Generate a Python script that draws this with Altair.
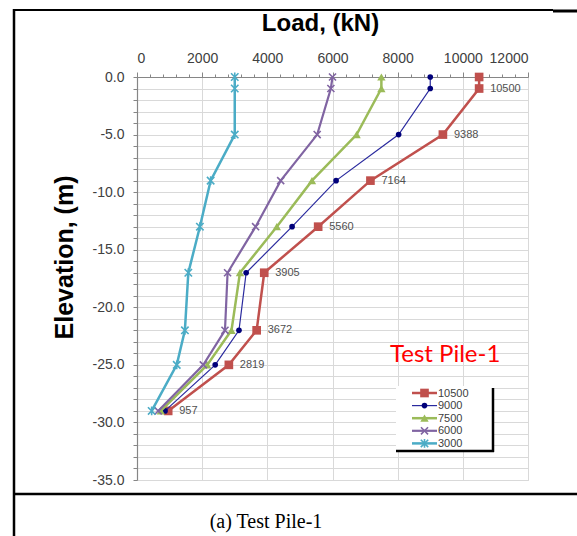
import altair as alt
import pandas as pd

# ---- data ----
depth = [0, -1, -5, -9, -13, -17, -22, -25, -29]
series_names = ["10500", "9000", "7500", "6000", "3000"]
load_10500 = [10500, 10500, 9388, 7164, 5560, 3905, 3672, 2819, 957]
load_9000 = [9000, 9000, 8030, 6110, 4760, 3350, 3130, 2400, 860]
load_7500 = [7500, 7500, 6740, 5370, 4290, 3160, 2900, 2155, 730]
load_6000 = [6000, 5950, 5530, 4410, 3640, 2780, 2700, 2035, 650]
load_3000 = [3000, 3000, 3000, 2260, 1930, 1575, 1470, 1220, 450]
red_labels = ["", "10500", "9388", "7164", "5560", "3905", "3672", "2819", "957"]
x_ticks = list(range(0, 12001, 400))
y_ticks = list(range(-35, 1, 1))

loads = [load_10500, load_9000, load_7500, load_6000, load_3000]

X_SHAPE = "M-1,-1L1,1M-1,1L1,-1"
STAR_SHAPE = "M-1,-1L1,1M-1,1L1,-1M0,-1.2L0,1.2"
styles = {
    "10500": dict(line="#C0504D", pt="#C0504D", lw=2.5, shape="square", size=75, filled=True),
    "9000": dict(line="#2A2A9E", pt="#00007A", lw=1.2, shape="circle", size=32, filled=True),
    "7500": dict(line="#9BBB59", pt="#9BBB59", lw=2.5, shape="triangle-up", size=70, filled=True),
    "6000": dict(line="#8064A2", pt="#8064A2", lw=2.2, shape=X_SHAPE, size=50, filled=False),
    "3000": dict(line="#4BACC6", pt="#4BACC6", lw=2.5, shape=STAR_SHAPE, size=55, filled=False),
}

FONT = "Liberation Sans"

x_enc = alt.X(
    "load:Q",
    scale=alt.Scale(domain=[0, 12000], nice=False, zero=False),
    axis=alt.Axis(
        orient="top",
        values=x_ticks,
        format="d",
        labelExpr="datum.value % 2000 === 0 ? datum.label : ''",
        grid=True,
        gridOpacity={"condition": {"test": "datum.value % 2000 === 0", "value": 1}, "value": 0},
        tickSize={"condition": {"test": "datum.value % 2000 === 0", "value": 5}, "value": 3},
        labelPadding=7,
        title="Load, (kN)",
        titleFontSize=24,
        titleFontWeight="bold",
        titleX=183,
        titleY=-54,
        titleAlign="center",
        titleBaseline="middle",
    ),
)
y_enc = alt.Y(
    "elev:Q",
    scale=alt.Scale(domain=[-35, 0], nice=False, zero=False),
    axis=alt.Axis(
        orient="left",
        values=y_ticks,
        labelExpr="datum.value % 5 === 0 ? (datum.value === 0 ? '0.0' : '-' + format(abs(datum.value), '.1f')) : ''",
        grid=True,
        tickSize=4,
        labelPadding=9,
        title="Elevation, (m)",
        titleFontSize=25,
        titleFontWeight="bold",
        titleAngle=270,
        titleX=-73,
        titleY=180,
        titleAlign="center",
        titleBaseline="middle",
    ),
)

layers = []
for name, vals in zip(series_names, loads):
    st = styles[name]
    df = pd.DataFrame({"elev": depth, "load": vals, "series": name})
    layers.append(
        alt.Chart(df).mark_line(color=st["line"], strokeWidth=st["lw"]).encode(x=x_enc, y=y_enc, order="elev:Q")
    )
    layers.append(
        alt.Chart(df).mark_point(
            shape=st["shape"], size=st["size"], filled=st["filled"],
            color=st["pt"], opacity=1, strokeWidth=1.6,
        ).encode(x=x_enc, y=y_enc)
    )

# data labels on the 10500 series
lab_df = pd.DataFrame({"elev": depth, "load": load_10500, "lab": red_labels})
lab_df = lab_df[lab_df["lab"] != ""]
layers.append(
    alt.Chart(lab_df).mark_text(
        align="left", baseline="middle", dx=11, fontSize=11, font=FONT, color="#505050"
    ).encode(x=x_enc, y=y_enc, text="lab:N")
)

one = pd.DataFrame({"k": [0]})

# annotation "Test Pile-1"
layers.append(
    alt.Chart(one).mark_text(
        text="Test Pile-1", align="left", baseline="alphabetic", font="Lato", fontSize=24, color="#FF0000"
    ).encode(x=alt.value(253), y=alt.value(285))
)

# legend (box, shadow, entries)
layers.append(
    alt.Chart(one).mark_rect(color="white").encode(
        x=alt.value(259), x2=alt.value(355), y=alt.value(309), y2=alt.value(373)
    )
)
layers.append(
    alt.Chart(one).mark_rule(color="black", strokeWidth=2.5).encode(
        x=alt.value(356), y=alt.value(311), y2=alt.value(375)
    )
)
layers.append(
    alt.Chart(one).mark_rule(color="black", strokeWidth=2.5).encode(
        x=alt.value(259), x2=alt.value(357), y=alt.value(374)
    )
)
for i, name in enumerate(series_names):
    st = styles[name]
    yy = 316 + 12.6 * i
    ldf = pd.DataFrame({"name": [name]})
    layers.append(
        alt.Chart(ldf).mark_rule(color=st["line"], strokeWidth=st["lw"]).encode(
            x=alt.value(275), x2=alt.value(300), y=alt.value(yy)
        )
    )
    layers.append(
        alt.Chart(ldf).mark_point(
            shape=st["shape"], size=st["size"], filled=st["filled"], color=st["pt"], opacity=1, strokeWidth=1.6
        ).encode(x=alt.value(287.5), y=alt.value(yy))
    )
    layers.append(
        alt.Chart(ldf).mark_text(
            align="left", baseline="middle", font=FONT, fontSize=11, color="#404040"
        ).encode(x=alt.value(301), y=alt.value(yy + 0.5), text="name:N")
    )

# frame lines of the figure cell and caption
layers.append(
    alt.Chart(one).mark_rule(color="black", strokeWidth=1.8).encode(
        x=alt.value(-124), x2=alt.value(416), y=alt.value(-67)
    )
)
layers.append(
    alt.Chart(one).mark_rule(color="black", strokeWidth=3).encode(
        x=alt.value(416), x2=alt.value(440), y=alt.value(-66)
    )
)
layers.append(
    alt.Chart(one).mark_rule(color="black", strokeWidth=2.5).encode(
        x=alt.value(-123), y=alt.value(-68), y2=alt.value(460)
    )
)
layers.append(
    alt.Chart(one).mark_rule(color="black", strokeWidth=2.5).encode(
        x=alt.value(-124), x2=alt.value(440), y=alt.value(417)
    )
)
layers.append(
    alt.Chart(one).mark_text(
        text="(a) Test Pile-1", align="center", baseline="alphabetic",
        font="Liberation Serif", fontSize=20, color="black"
    ).encode(x=alt.value(129), y=alt.value(451))
)

chart = (
    alt.layer(*layers)
    .properties(
        width=391,
        height=403,
        autosize=alt.AutoSizeParams(type="none"),
        padding={"left": 137, "top": 77, "right": 49, "bottom": 56},
        background="white",
    )
    .configure_view(stroke="#d9d9d9", strokeWidth=1)
    .configure_axis(
        domainColor="#868686",
        domainWidth=1.2,
        tickColor="#868686",
        gridColor="#d9d9d9",
        labelFont=FONT,
        labelFontSize=14,
        labelColor="#404040",
        titleFont=FONT,
        titleColor="black",
    )
)

chart.save("out.html", embed_options={"renderer": "svg", "actions": False})
